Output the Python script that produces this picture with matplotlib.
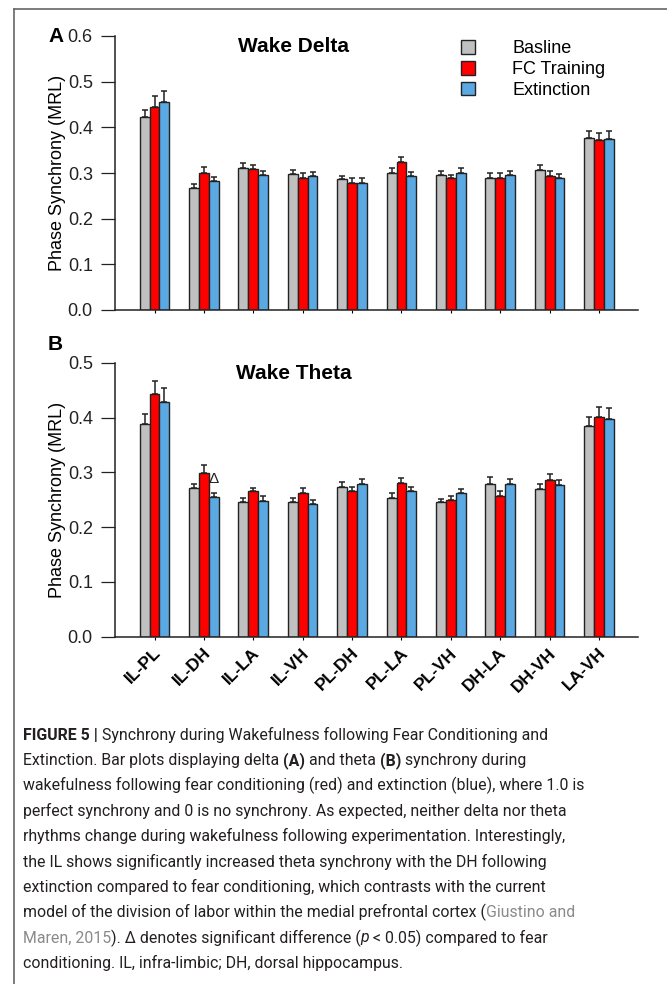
import matplotlib.pyplot as plt
import matplotlib.transforms as mtransforms
from matplotlib.lines import Line2D
from matplotlib.patches import Patch
import numpy as np

plt.rcParams['font.family'] = ['Liberation Sans', 'DejaVu Sans']

pairs = ['IL-PL', 'IL-DH', 'IL-LA', 'IL-VH', 'PL-DH',
         'PL-LA', 'PL-VH', 'DH-LA', 'DH-VH', 'LA-VH']
conditions = ['Basline', 'FC Training', 'Extinction']
colors = ['#c0c0c0', '#ff0000', '#5aa9e2']

# wake delta, mean MRL and SEM per condition
delta_base = [0.422, 0.268, 0.312, 0.298, 0.286, 0.301, 0.295, 0.290, 0.307, 0.376]
delta_base_sem = [0.017, 0.009, 0.010, 0.009, 0.008, 0.011, 0.009, 0.009, 0.011, 0.017]
delta_fc = [0.445, 0.301, 0.308, 0.290, 0.279, 0.323, 0.289, 0.290, 0.293, 0.372]
delta_fc_sem = [0.024, 0.013, 0.010, 0.009, 0.009, 0.011, 0.006, 0.010, 0.011, 0.016]
delta_ext = [0.455, 0.283, 0.296, 0.293, 0.279, 0.293, 0.301, 0.295, 0.288, 0.375]
delta_ext_sem = [0.024, 0.009, 0.009, 0.009, 0.009, 0.009, 0.009, 0.010, 0.009, 0.017]

# wake theta
theta_base = [0.388, 0.272, 0.246, 0.246, 0.273, 0.254, 0.245, 0.279, 0.270, 0.384]
theta_base_sem = [0.019, 0.007, 0.007, 0.007, 0.009, 0.008, 0.006, 0.013, 0.009, 0.017]
theta_fc = [0.443, 0.299, 0.265, 0.262, 0.265, 0.280, 0.250, 0.257, 0.286, 0.401]
theta_fc_sem = [0.024, 0.014, 0.007, 0.009, 0.009, 0.009, 0.007, 0.009, 0.010, 0.019]
theta_ext = [0.428, 0.255, 0.248, 0.243, 0.278, 0.265, 0.263, 0.278, 0.276, 0.397]
theta_ext_sem = [0.025, 0.007, 0.008, 0.006, 0.009, 0.008, 0.006, 0.010, 0.010, 0.020]

W, H = 667, 984
fig = plt.figure(figsize=(W / 100, H / 100), dpi=100)


def fx(px):
    return px / W


def fy(py):
    return 1 - py / H


def bar_panel(rect, means, sems, ymax, title, title_y):
    ax = fig.add_axes(rect)
    x = np.arange(len(pairs))
    width = 0.2
    for j, (m, s) in enumerate(zip(means, sems)):
        pos = x + (j - 1) * width
        ax.bar(pos, m, width, color=colors[j], edgecolor='#222222',
               linewidth=1.0, zorder=2)
        ax.errorbar(pos, m, yerr=[np.zeros(len(m)), s], fmt='none',
                    ecolor='#222222', elinewidth=1.1, capsize=2.2,
                    capthick=1.1, zorder=3)
    ax.set_xlim(-0.80, 9.79)
    ax.set_ylim(0, ymax)
    ticks = np.arange(0, ymax + 0.01, 0.1)
    ax.set_yticks(ticks)
    ax.set_yticklabels([f'{v:.1f}' for v in ticks])
    ax.set_xticks(x)
    ax.set_xticklabels([])
    for side in ('top', 'right'):
        ax.spines[side].set_visible(False)
    for side in ('left', 'bottom'):
        ax.spines[side].set_linewidth(1.1)
        ax.spines[side].set_color('#222222')
    ax.tick_params(axis='y', direction='out', length=10, width=0.9,
                   labelsize=13, pad=6, colors='#222222')
    ax.tick_params(axis='x', direction='out', length=2, width=0.8)
    ax.set_ylabel('Phase Synchrony (MRL)', fontsize=13, labelpad=1)
    fig.text(fx(294), fy(title_y), title, fontsize=15, fontweight='bold',
             ha='center', va='center')
    return ax


ax_a = bar_panel([fx(115), fy(310), fx(638) - fx(115), fy(36) - fy(310)],
                 [delta_base, delta_fc, delta_ext],
                 [delta_base_sem, delta_fc_sem, delta_ext_sem],
                 0.6, 'Wake Delta', 47)
ax_b = bar_panel([fx(115), fy(636.7), fx(638) - fx(115), fy(362.7) - fy(636.7)],
                 [theta_base, theta_fc, theta_ext],
                 [theta_base_sem, theta_fc_sem, theta_ext_sem],
                 0.5, 'Wake Theta', 373)

ax_b.set_xticklabels(pairs, rotation=45, ha='right', va='center',
                     rotation_mode='anchor', fontsize=12.5, fontweight='bold')
ax_b.tick_params(axis='x', pad=8)
shift = mtransforms.ScaledTranslation(0.04, 0, fig.dpi_scale_trans)
for lbl in ax_b.get_xticklabels():
    lbl.set_transform(lbl.get_transform() + shift)

# significance mark next to IL-DH extinction bar
ax_b.text(1 + 0.2, theta_fc[1] - 0.011, '\u0394', fontsize=11,
          ha='center', va='center', color='#222222')

handles = [Patch(facecolor=c, edgecolor='#222222', linewidth=1.0)
           for c in colors]
fig.legend(handles, conditions, loc='upper left',
           bbox_to_anchor=(fx(461), fy(40)), frameon=False, fontsize=13,
           handlelength=0.75, handleheight=0.8, handletextpad=2.1,
           labelspacing=0.2, borderpad=0, borderaxespad=0)

fig.text(fx(48), fy(36), 'A', fontsize=15, fontweight='bold', va='center')
fig.text(fx(48), fy(345), 'B', fontsize=15, fontweight='bold', va='center')

# frame lines
fig.add_artist(Line2D([fx(14), fx(14)], [0, fy(9)], color='#666666', lw=1.2))
fig.add_artist(Line2D([fx(14), 1], [fy(9), fy(9)], color='#666666', lw=1.2))

# caption
renderer = fig.canvas.get_renderer()
cap_font = ['Roboto', 'Liberation Sans', 'DejaVu Sans']
cap_color = '#231f20'
link_color = '#8a8a8a'

B = {'fontweight': 'bold'}
I = {'fontstyle': 'italic'}
G = {'color': link_color}
N = {}

caption = [
    [('FIGURE 5 |', B), (' Synchrony during Wakefulness following Fear Conditioning and', N)],
    [('Extinction. Bar plots displaying delta', N), (' (A)', B), (' and theta', N),
     (' (B)', B), (' synchrony during', N)],
    [('wakefulness following fear conditioning (red) and extinction (blue), where 1.0 is', N)],
    [('perfect synchrony and 0 is no synchrony. As expected, neither delta nor theta', N)],
    [('rhythms change during wakefulness following experimentation. Interestingly,', N)],
    [('the IL shows significantly increased theta synchrony with the DH following', N)],
    [('extinction compared to fear conditioning, which contrasts with the current', N)],
    [('model of the division of labor within the medial prefrontal cortex (', N),
     ('Giustino and', G)],
    [('Maren, 2015', G), ('). \u0394 denotes significant difference (', N), ('p', I),
     (' < 0.05) compared to fear', N)],
    [('conditioning. IL, infra-limbic; DH, dorsal hippocampus.', N)],
]


def put_line(line, xp, yp, size, keep=True):
    sw = None
    start = xp
    for s, style in line:
        if s.startswith(' '):
            if sw is None:
                a = fig.text(0, 0, 'a a', fontsize=size, family=cap_font)
                b = fig.text(0, 0, 'aa', fontsize=size, family=cap_font)
                sw = a.get_window_extent(renderer).width - b.get_window_extent(renderer).width
                a.remove()
                b.remove()
            xp += sw
            s = s.lstrip(' ')
        kw = {'color': cap_color}
        kw.update(style)
        t = fig.text(fx(xp), fy(yp), s, fontsize=size, family=cap_font,
                     va='center', ha='left', **kw)
        xp += t.get_window_extent(renderer).width
        if not keep:
            t.remove()
    return xp - start


# size the caption from the width of its first line, a little over
# the right margin so the letters keep their height
probe = put_line(caption[0], 0, 0, 12, keep=False)
cap_size = 1.1 * 12 * 472 / probe

y0, dy = 735, 25.37
for k, line in enumerate(caption):
    put_line(line, 22.7, y0 + k * dy, cap_size)

fig.savefig('out.png', dpi=100)
